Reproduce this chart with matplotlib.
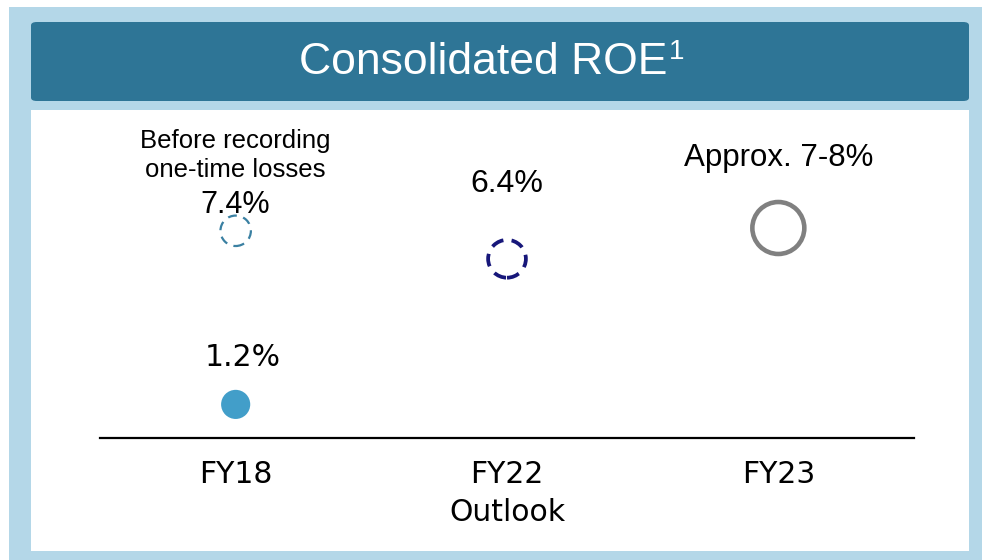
import matplotlib.pyplot as plt
from matplotlib.patches import FancyBboxPatch, Rectangle

# ROE by fiscal year (%)
categories = ["FY18", "FY22\nOutlook", "FY23"]
roe_actual = [1.2]                # FY18 reported
roe_before_losses = [7.4]         # FY18 before one-time losses
roe_outlook = [6.4]               # FY22 outlook
roe_target = [7.5]                # FY23, approx. 7-8%
label_actual = ["1.2%"]
label_before_note = "Before recording\none-time losses"
label_before = ["7.4%"]
label_outlook = ["6.4%"]
label_target = ["Approx. 7-8%"]

W, H = 982, 560
fig = plt.figure(figsize=(W / 100, H / 100), dpi=100, facecolor="white")


def box(x0, y0, x1, y1):
    # pixel box (top-left origin) -> figure fraction
    return x0 / W, 1 - y1 / H, (x1 - x0) / W, (y1 - y0) / H


x, y, w, h = box(9, 7, 982, 560)
fig.patches.append(Rectangle((x, y), w, h, transform=fig.transFigure,
                             facecolor="#b4d7e8", edgecolor="none", zorder=-3))
x, y, w, h = box(31, 110, 969, 551)
fig.patches.append(Rectangle((x, y), w, h, transform=fig.transFigure,
                             facecolor="white", edgecolor="none", zorder=-2))
x, y, w, h = box(31, 22, 969, 101)
fig.patches.append(FancyBboxPatch((x, y), w, h, transform=fig.transFigure,
                                  boxstyle="round,pad=0,rounding_size=0.006",
                                  facecolor="#2e7596", edgecolor="none", zorder=-2))
fig.text(667 / W, 1 - 63 / H, "Consolidated ROE", color="white",
         fontsize=32, family="Liberation Sans", ha="right", va="center")
fig.text(669 / W, 1 - 52 / H, "1", color="white",
         fontsize=20, family="Liberation Sans", ha="left", va="center")

# plot area: 0% at the axis line, ~28 px per point
px_per_unit = 28
ax_left, ax_right, ax_bottom = 100, 914, 438
ymax = 11.7
ax = fig.add_axes([ax_left / W, 1 - ax_bottom / H, (ax_right - ax_left) / W,
                   ymax * px_per_unit / H], zorder=2)
ax.set_facecolor("none")
ax.set_xlim(-0.5, 2.5)
ax.set_ylim(0, ymax)
for s in ["top", "left", "right"]:
    ax.spines[s].set_visible(False)
ax.spines["bottom"].set_linewidth(1.6)
ax.spines["bottom"].set_color("black")
ax.set_yticks([])
ax.set_xticks(range(len(categories)))
ax.set_xticklabels(categories, fontsize=21.5, family="DejaVu Sans", linespacing=1.4)
ax.tick_params(axis="x", length=0, pad=16)

ax.scatter([0], roe_actual, s=440, color="#429ec9", edgecolors="none", zorder=3,
           clip_on=False)
ax.scatter([0], roe_before_losses, s=480, facecolors="none", edgecolors="#3a80a2",
           linewidths=1.6, linestyles=(0, (4, 3)), zorder=3, clip_on=False)
ax.scatter([1], roe_outlook, s=740, facecolors="none", edgecolors="#17177a",
           linewidths=2.7, linestyles=(0, (3.4, 2.2)), zorder=3, clip_on=False)
ax.scatter([2], roe_target, s=1400, facecolors="none", edgecolors="#808080",
           linewidths=3.3, zorder=3, clip_on=False)

ax.text(0.025, 2.86, label_actual[0], fontsize=21.5, family="DejaVu Sans",
        ha="center", va="center")
ax.text(0, 8.32, label_before[0], fontsize=22, family="Liberation Sans",
        ha="center", va="center")
ax.text(0, 9.15, label_before_note, fontsize=18.5,
        family="Liberation Sans", ha="center", va="bottom", linespacing=1.25)
ax.text(1, 9.07, label_outlook[0], fontsize=23, family="Liberation Sans",
        ha="center", va="center")
ax.text(2, 10.0, label_target[0], fontsize=22.5, family="Liberation Sans",
        ha="center", va="center")

fig.savefig("out.png", dpi=100, facecolor=fig.get_facecolor())
